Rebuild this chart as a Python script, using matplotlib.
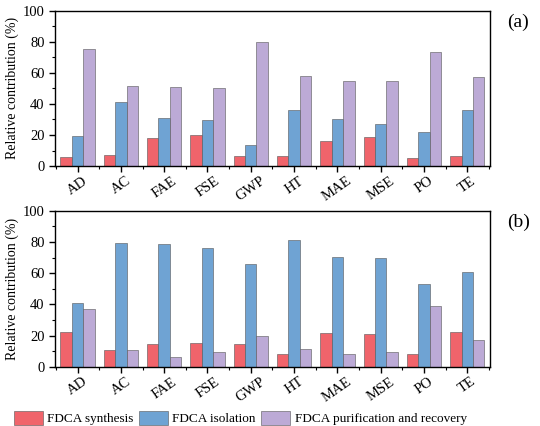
import numpy as np
import matplotlib
matplotlib.use("Agg")
import matplotlib.pyplot as plt
from matplotlib.ticker import MultipleLocator

plt.rcParams['font.family'] = ['Liberation Serif', 'DejaVu Serif']

# ---------- 数据
categories = ["AD", "AC", "FAE", "FSE", "GWP", "HT", "MAE", "MSE", "PO", "TE"]
series_names = ["FDCA synthesis", "FDCA isolation", "FDCA purification and recovery"]

# (a)
synth_a = [6.0, 7.1, 18.1, 20.0, 6.7, 6.2, 15.9, 18.9, 5.4, 6.7]
isol_a = [19.1, 41.1, 31.2, 29.5, 13.8, 35.9, 30.1, 27.1, 21.7, 35.9]
purif_a = [75.3, 51.6, 51.0, 50.5, 80.0, 58.1, 54.8, 54.8, 73.3, 57.6]

# (b)
synth_b = [22.4, 10.5, 14.5, 15.2, 14.5, 7.9, 21.6, 20.9, 7.9, 22.4]
isol_b = [40.8, 79.3, 78.8, 76.3, 65.8, 81.6, 70.3, 69.9, 53.0, 61.1]
purif_b = [37.2, 10.5, 6.4, 9.2, 19.7, 11.1, 8.1, 9.6, 39.1, 16.9]

colors = ["#F0646B", "#6FA3D3", "#BCAAD6"]

fig = plt.figure(figsize=(5.4, 4.26), dpi=100)
ax_a = fig.add_axes([0.102, 0.610, 0.805, 0.365])
ax_b = fig.add_axes([0.102, 0.139, 0.805, 0.366])

x = np.arange(len(categories))
w = 0.264


def draw_panel(ax, data, tag):
    bars = []
    for k, (vals, c) in enumerate(zip(data, colors)):
        b = ax.bar(x + (k - 1) * w, vals, width=w, color=c,
                   edgecolor="#555555", linewidth=0.4, label=series_names[k])
        bars.append(b)
    ax.set_xlim(-0.52, len(categories) - 0.48)
    ax.set_ylim(0, 100)
    ax.set_xticks(x)
    ax.set_xticklabels(categories, rotation=35, ha="center", fontsize=10)
    ax.xaxis.set_minor_locator(MultipleLocator(0.5))
    ax.yaxis.set_major_locator(MultipleLocator(20))
    ax.yaxis.set_minor_locator(MultipleLocator(10))
    ax.tick_params(axis="both", which="major", direction="out", length=4, width=1, labelsize=10.5)
    ax.tick_params(axis="both", which="minor", direction="out", length=2, width=0.8)
    ax.tick_params(axis="x", pad=2)
    for s in ax.spines.values():
        s.set_linewidth(1.0)
    ax.set_ylabel("Relative contribution (%)", fontsize=10, labelpad=3)
    ax.text(1.04, 0.98, tag, transform=ax.transAxes, fontsize=14, va="top", ha="left")
    return bars


draw_panel(ax_a, [synth_a, isol_a, purif_a], "(a)")
bars = draw_panel(ax_b, [synth_b, isol_b, purif_b], "(b)")

fig.legend(handles=bars, labels=series_names, loc="center left", bbox_to_anchor=(0.025, 0.018),
           ncol=3, frameon=False, fontsize=9.5, handlelength=2.2, handleheight=1.2,
           handletextpad=0.35, columnspacing=0.4, borderaxespad=0, borderpad=0)

fig.savefig("out.png", dpi=100)
